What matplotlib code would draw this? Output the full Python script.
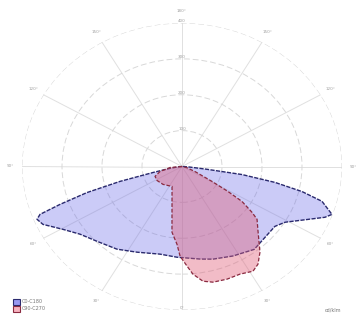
import numpy as np
import matplotlib
matplotlib.use("Agg")
import matplotlib.pyplot as plt
from matplotlib.patches import Patch

# ---- data (photometric angle in degrees, relative intensity) ----
# C0-C180 plane: negative angles = C180 side (left), positive = C0 side (right)
c0c180_angles = [-90, -85, -80, -77, -75, -73, -70.9, -69.4, -67.9, -65.1, -59.5, -53.5,
                 -45.5, -35.2, -25.2, -12.7, -2.8, 10, 16.7, 27, 38, 46.5, 54.3, 58.9,
                 64.9, 68.4, 70.4, 74.5, 76.9, 79.2, 81.5, 83, 86, 90]
c0c180_values = [0, 0.02, 0.08, 0.186, 0.401, 0.621, 0.807, 0.948, 0.978, 0.958, 0.863, 0.793,
                 0.744, 0.705, 0.66, 0.626, 0.633, 0.655, 0.674, 0.70, 0.733, 0.716, 0.715, 0.752,
                 0.869, 0.961, 0.995, 0.908, 0.77, 0.592, 0.379, 0.15, 0.04, 0]

# C90-C270 plane: negative angles = C270 side (left), positive = C90 side (right)
c90c270_angles = [-90, -84.7, -75.7, -67.8, -58, -43.5, -24.2, -14, -7.8, -3.3, -1.1, 2.6,
                  5.2, 9.3, 13.5, 19.7, 25.8, 31.3, 34.9, 39.2, 46.5, 51.9, 53.9, 57, 58.8,
                  61, 66.6, 75, 90]
c90c270_values = [0, 0.075, 0.142, 0.182, 0.184, 0.172, 0.152, 0.258, 0.462, 0.543, 0.625, 0.695,
                  0.753, 0.81, 0.829, 0.834, 0.833, 0.854, 0.83, 0.771, 0.655, 0.596, 0.541, 0.447,
                  0.336, 0.214, 0.088, 0.03, 0]

r_ticks = [0.25, 0.5, 0.75, 1.0]
r_tick_labels = ["100", "200", "300", "400"]
theta_ticks = list(range(0, 360, 30))
theta_tick_labels = ["0°", "30°", "60°", "90°", "120°", "150°", "180°",
                     "150°", "120°", "90°", "60°", "30°"]
series_names = ["C0-C180", "C90-C270"]
unit_label = "cd/klm"

# ---- figure ----
fig = plt.figure(figsize=(3.57, 3.16), dpi=100)
ax = fig.add_axes([22 / 357, 6 / 316, 320 / 357, 287 / 316], projection="polar")
ax.set_aspect("auto")
ax.set_theta_zero_location("S")
ax.set_theta_direction(1)
ax.set_ylim(0, 1.0)
ax.spines["polar"].set_visible(False)
ax.set_facecolor("none")

# the bottom (0°) label is drawn just inside the ring so it is not cut by the edge
ax.set_thetagrids(theta_ticks, [""] + theta_tick_labels[1:], fontsize=3, color="#a0a0a0")
ax.text(0, 1.0, theta_tick_labels[0], fontsize=3, color="#a0a0a0",
        ha="center", va="bottom", zorder=6)
ax.set_rgrids(r_ticks, r_tick_labels, angle=180, fontsize=3, color="#a0a0a0")
ax.tick_params(axis="x", pad=-2)
ax.xaxis.grid(True, color="#e0e0e0", linestyle="-", linewidth=0.7)
ax.yaxis.grid(True, color="#d8d8d8", linestyle=(0, (6, 3)), linewidth=0.7)
for lab in ax.get_yticklabels():
    lab.set_horizontalalignment("center")

blue_fill = "#6868e8"
blue_edge = "#2a2a6e"
red_fill = "#e0607a"
red_edge = "#8a2a40"

tb = np.radians(c0c180_angles)
tr = np.radians(c90c270_angles)
ax.fill(tb, c0c180_values, color=blue_fill, alpha=0.34, lw=0, zorder=2)
ax.plot(tb, c0c180_values, color=blue_edge, lw=1.0, ls=(0, (3, 1)), zorder=3)
ax.fill(tr, c90c270_values, color=red_fill, alpha=0.42, lw=0, zorder=4)
ax.plot(tr, c90c270_values, color=red_edge, lw=0.9, ls=(0, (3, 1.5)), zorder=5)

handles = [Patch(facecolor=(0.6, 0.6, 0.95), edgecolor=blue_edge, lw=0.8),
           Patch(facecolor=(0.97, 0.7, 0.75), edgecolor=red_edge, lw=0.8)]
fig.legend(handles, series_names, loc="lower left", bbox_to_anchor=(0.025, 0.0),
           frameon=False, fontsize=3.5, handlelength=1.4, handleheight=1.4,
           labelspacing=0.3, handletextpad=0.4, labelcolor="#777777")
fig.text(0.955, 0.012, unit_label, fontsize=3.5, color="#777777", ha="right", va="bottom")

fig.savefig("out.png", dpi=100)
